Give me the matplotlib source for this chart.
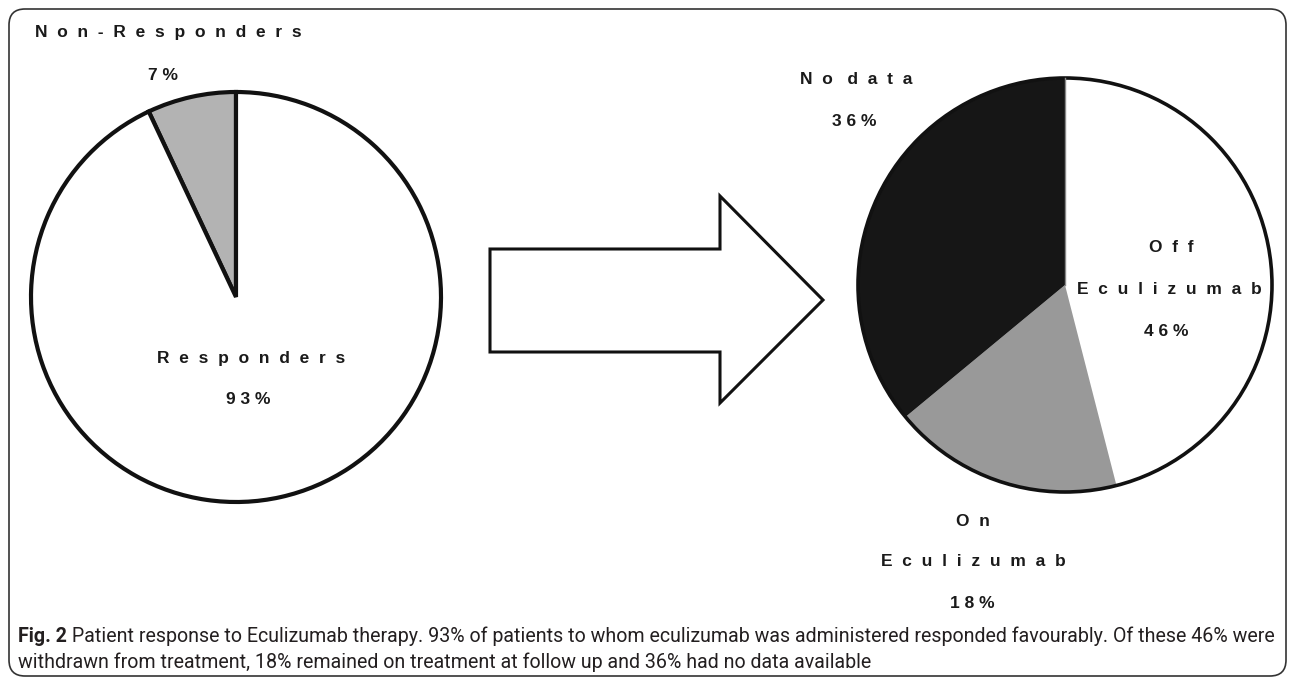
# pie charts for eculizumab response, drawn on a pixel-sized canvas
import matplotlib
matplotlib.use('Agg')
import matplotlib.pyplot as plt
from matplotlib.patches import FancyBboxPatch, Polygon, Circle

# data
resp_labels = ['Non-Responders', 'Responders']
resp_values = [7, 93]
resp_colors = ['#b3b3b3', '#ffffff']

follow_labels = ['Off Eculizumab', 'On Eculizumab', 'No data']
follow_values = [46, 18, 36]
follow_colors = ['#ffffff', '#999999', '#161616']

caption_bold = 'Fig. 2'
caption_rest = (' Patient response to Eculizumab therapy. 93% of patients to whom eculizumab was '
                'administered responded favourably. Of these 46% were')
caption_line2 = ('withdrawn from treatment, 18% remained on treatment at follow up and 36% '
                 'had no data available')

W, H = 1295, 680
fig = plt.figure(figsize=(W / 100, H / 100), dpi=100)
ax = fig.add_axes([0, 0, 1, 1])
ax.set_xlim(0, W)
ax.set_ylim(0, H)
ax.set_aspect('equal')
ax.axis('off')


def py(y):
    # image pixel row -> data y
    return H - y


def spaced(s, n=2):
    # wide letter spacing like the original figure; word gaps get one extra space
    return (' ' * n).join(s).replace(' ' * (2 * n + 1), ' ' * (n + 1))


label_font = dict(family=['Liberation Sans', 'DejaVu Sans'], weight='bold', fontsize=12.5, color='#1a1a1a')

# frame
frame = FancyBboxPatch((9, py(676)), 1277, 667, boxstyle='round,pad=0,rounding_size=16',
                       facecolor='none', edgecolor='#333333', lw=1.2)
ax.add_patch(frame)

# left pie
ax.pie(resp_values, colors=resp_colors, startangle=90, counterclock=True,
       center=(236, py(297)), radius=205,
       wedgeprops=dict(edgecolor='#111111', linewidth=3.0))

# right pie: no edges between slices, only a dark rim
rc = (1065, py(285))
rr = 207
ax.pie(follow_values, colors=follow_colors, startangle=90, counterclock=False,
       center=rc, radius=rr, wedgeprops=dict(linewidth=0))
ax.plot([rc[0], rc[0]], [rc[1], rc[1] + rr], color='#888888', lw=1.0)
ax.add_patch(Circle(rc, rr, facecolor='none', edgecolor='#111111', lw=2.6))

ax.set_xlim(0, W)
ax.set_ylim(0, H)

# arrow
arrow = Polygon([(490, py(249)), (720, py(249)), (720, py(196)), (823, py(300)),
                 (720, py(403)), (720, py(352)), (490, py(352))],
                closed=True, facecolor='white', edgecolor='#111111', lw=2.2)
ax.add_patch(arrow)

# labels, left
ax.text(35, py(32), spaced(resp_labels[0]), ha='left', va='center', **label_font)
ax.text(163, py(75), spaced(f'{resp_values[0]}%', 1), ha='center', va='center', **label_font)
ax.text(251, py(358), spaced(resp_labels[1]), ha='center', va='center', **label_font)
ax.text(248, py(400), spaced(f'{resp_values[1]}%', 1), ha='center', va='center', **label_font)

# labels, right
ax.text(800, py(79), spaced(follow_labels[2]), ha='left', va='center', **label_font)
ax.text(854, py(121), spaced(f'{follow_values[2]}%', 1), ha='center', va='center', **label_font)
ax.text(1171, py(247), spaced('Off'), ha='center', va='center', **label_font)
ax.text(1169, py(289), spaced('Eculizumab'), ha='center', va='center', **label_font)
ax.text(1166, py(331), spaced(f'{follow_values[0]}%', 1), ha='center', va='center', **label_font)
ax.text(973, py(521), spaced('On'), ha='center', va='center', **label_font)
ax.text(973, py(562), spaced('Eculizumab'), ha='center', va='center', **label_font)
ax.text(972, py(604), spaced(f'{follow_values[1]}%', 1), ha='center', va='center', **label_font)

# caption, sized so the first line runs to the right edge of the frame
cap_font = dict(family=['Roboto', 'DejaVu Sans'], color='#231f20')
size = 13.0
t1 = ax.text(18, py(636), caption_bold, ha='left', va='center', weight='bold', fontsize=size, **cap_font)
t2 = ax.text(0, py(636), caption_rest, ha='left', va='center', fontsize=size, **cap_font)
fig.canvas.draw()
r = fig.canvas.get_renderer()
w = t1.get_window_extent(r).width + t2.get_window_extent(r).width
size = size * (1277 - 18) / w
t1.set_fontsize(size)
t2.set_fontsize(size)
fig.canvas.draw()
t2.set_x(18 + t1.get_window_extent(r).width)
ax.text(18, py(662), caption_line2, ha='left', va='center', fontsize=size, **cap_font)

fig.savefig('out.png', dpi=100)
